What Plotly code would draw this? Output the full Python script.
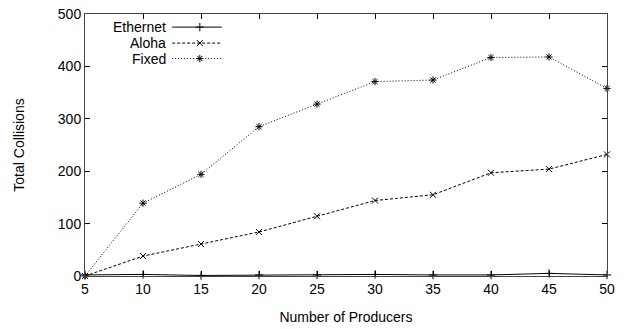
import plotly.graph_objects as go

# Number of producers on the x axis
producers = [5, 10, 15, 20, 25, 30, 35, 40, 45, 50]

# Total collisions per protocol
ethernet = [2, 3, 1, 2, 2, 3, 2, 2, 5, 2]
aloha = [0, 38, 61, 84, 114, 144, 155, 197, 204, 232]
fixed = [0, 139, 194, 285, 328, 371, 374, 417, 418, 358]

series_names = ["Ethernet", "Aloha", "Fixed"]
series_values = [ethernet, aloha, fixed]
series_dash = ["solid", "3px,2px", "1px,2px"]
series_symbol = ["cross-thin-open", "x-thin-open", "asterisk-open"]

FONT = "Liberation Sans, Arial, Helvetica, sans-serif"
FONT_SIZE = 14
MARKER_SIZE = 6

fig = go.Figure()

for name, vals, dash, sym in zip(series_names, series_values, series_dash, series_symbol):
    fig.add_trace(go.Scatter(
        x=producers, y=vals, mode="lines+markers", name=name,
        line=dict(color="black", width=1, dash=dash),
        marker=dict(symbol=sym, size=MARKER_SIZE, color="black",
                    line=dict(color="black", width=1)),
        cliponaxis=False, showlegend=False,
    ))

# gnuplot-style key: right-aligned label followed by a line sample
key_rows = [0.950, 0.889, 0.830]
key_text_x = 0.159
key_line = [0.167, 0.220, 0.262]
for name, dash, sym, ky in zip(series_names, series_dash, series_symbol, key_rows):
    fig.add_trace(go.Scatter(
        x=key_line, y=[ky, ky, ky], xaxis="x2", yaxis="y2",
        mode="lines", line=dict(color="black", width=1, dash=dash),
        showlegend=False, hoverinfo="skip",
    ))
    fig.add_trace(go.Scatter(
        x=[key_line[1]], y=[ky], xaxis="x2", yaxis="y2", mode="markers",
        marker=dict(symbol=sym, size=MARKER_SIZE, color="black",
                    line=dict(color="black", width=1)),
        showlegend=False, hoverinfo="skip",
    ))
    fig.add_annotation(
        x=key_text_x, y=ky, xref="paper", yref="paper", text=name,
        showarrow=False, xanchor="right", yanchor="middle",
        font=dict(family=FONT, size=FONT_SIZE, color="black"),
    )

axis_common = dict(
    showgrid=False, zeroline=False, showline=True, linecolor="#444",
    linewidth=1, mirror="allticks", ticks="inside", ticklen=5,
    tickcolor="black", tickwidth=1, automargin=False,
    tickfont=dict(family=FONT, size=FONT_SIZE, color="black"),
)

fig.update_layout(
    width=627, height=329,
    margin=dict(l=85, r=20, t=14, b=53),
    paper_bgcolor="white", plot_bgcolor="white",
    showlegend=False,
    xaxis=dict(range=[5, 50], dtick=5, tick0=5,
               title=dict(text="Number of Producers", standoff=16,
                          font=dict(family=FONT, size=FONT_SIZE, color="black")),
               **axis_common),
    yaxis=dict(range=[0, 500], dtick=100,
               title=dict(text="Total Collisions", standoff=29,
                          font=dict(family=FONT, size=FONT_SIZE, color="black")),
               **axis_common),
    xaxis2=dict(range=[0, 1], overlaying="x", visible=False),
    yaxis2=dict(range=[0, 1], overlaying="y", visible=False),
)

fig.write_html("out.html")
